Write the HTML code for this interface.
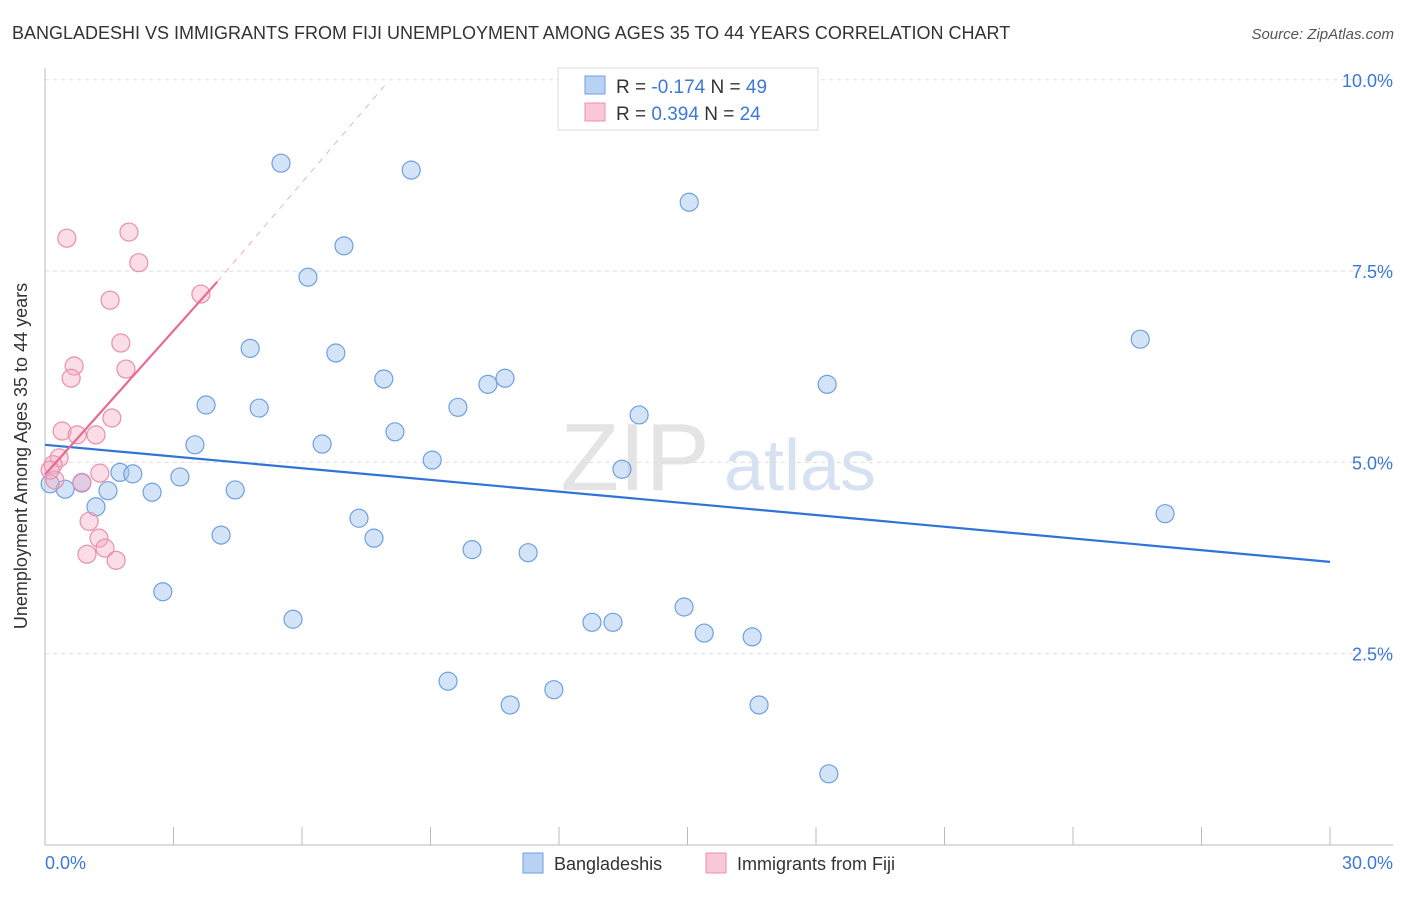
<!DOCTYPE html>
<html><head><meta charset="utf-8"><style>
body{margin:0;background:#fff;font-family:"Liberation Sans",sans-serif}
svg text{font-family:"Liberation Sans",sans-serif}
</style></head><body>
<svg id="c" width="1406" height="892" xmlns="http://www.w3.org/2000/svg">
<text x="12" y="39" font-size="18" fill="#333">BANGLADESHI VS IMMIGRANTS FROM FIJI UNEMPLOYMENT AMONG AGES 35 TO 44 YEARS CORRELATION CHART</text>
<text x="1394" y="39" font-size="15" fill="#555" text-anchor="end" font-style="italic">Source: ZipAtlas.com</text>
<text x="635" y="490" font-size="96" fill="#e4e4e4" font-family="Liberation Serif" text-anchor="middle">ZIP</text>
<text x="800" y="490" font-size="72" fill="#d6e2f2" text-anchor="middle">atlas</text>
<g id="grid"></g><g id="axes"></g><g id="marks"></g>
<text x="27" y="456" font-size="18" fill="#333" text-anchor="middle" transform="rotate(-90 27 456)">Unemployment Among Ages 35 to 44 years</text>
<text x="45" y="869" font-size="18" fill="#3b78d8">0.0%</text>
<text x="1393" y="869" font-size="18" fill="#3b78d8" text-anchor="end">30.0%</text>
<g>
<rect x="558" y="68" width="260" height="62" fill="#fff" stroke="#ddd"/>
<rect x="585" y="76" width="20" height="18" fill="#b8d2f4" stroke="#6fa0e0"/>
<rect x="585" y="103" width="20" height="18" fill="#f9c8d6" stroke="#e890aa"/>
<text x="616" y="93" font-size="19" fill="#333">R = <tspan fill="#3b78d8">-0.174</tspan>   N = <tspan fill="#3b78d8">49</tspan></text>
<text x="616" y="120" font-size="19" fill="#333">R =  <tspan fill="#3b78d8">0.394</tspan>   N = <tspan fill="#3b78d8">24</tspan></text>
</g>
<g>
<rect x="523" y="853" width="20" height="20" fill="#b8d2f4" stroke="#6fa0e0"/>
<text x="554" y="870" font-size="18" fill="#333">Bangladeshis</text>
<rect x="706" y="853" width="20" height="20" fill="#f9c8d6" stroke="#e890aa"/>
<text x="737" y="870" font-size="18" fill="#333">Immigrants from Fiji</text>
</g>
</svg>
<script>
const yTicks=[2.5,5.0,7.5,10.0];
const yTickLabels=["2.5%","5.0%","7.5%","10.0%"];
const xTicks=[0,3,6,9,12,15,18,21,24,27,30];
const blueX=[5.51,8.55,15.04,6.98,6.14,25.57,4.79,6.79,7.91,18.26,10.34,10.74,3.76,5.00,9.64,13.87,3.50,6.47,8.17,9.04,13.47,1.75,2.05,3.15,0.86,0.47,1.47,2.50,4.44,1.19,26.15,7.33,4.11,7.68,9.97,11.28,2.75,5.79,12.77,13.26,14.92,15.39,16.51,9.41,11.88,10.86,16.67,18.30,0.12];
const blueY=[8.91,8.82,8.40,7.83,7.42,6.61,6.49,6.43,6.09,6.02,6.02,6.10,5.75,5.71,5.72,5.62,5.23,5.24,5.40,5.03,4.91,4.87,4.85,4.81,4.73,4.65,4.63,4.61,4.64,4.42,4.33,4.27,4.05,4.01,3.86,3.82,3.31,2.95,2.91,2.91,3.11,2.77,2.72,2.14,2.03,1.83,1.83,0.93,4.72];
const pinkX=[0.51,1.96,2.19,1.52,3.64,1.77,1.89,0.68,0.61,1.56,0.40,1.19,0.75,0.33,0.19,1.28,0.86,0.23,1.03,1.26,1.40,0.98,1.66,0.12];
const pinkY=[7.93,8.01,7.61,7.12,7.20,6.56,6.22,6.26,6.10,5.58,5.41,5.36,5.36,5.06,4.97,4.86,4.74,4.77,4.23,4.01,3.88,3.80,3.72,4.90];
const blueTrend=[[0,5.23],[30,3.70]];
const pinkTrend=[[0,4.84],[4.02,7.36]];
const pinkTrendDash=[[4.02,7.36],[8.0,9.97]];
const X=v=>45+v/30*1285, Y=v=>845-v*76.52;
const NS="http://www.w3.org/2000/svg";
function mk(p,t,a){const e=document.createElementNS(NS,t);for(const k in a)e.setAttribute(k,a[k]);p.appendChild(e);return e;}
const grid=document.getElementById('grid'),axes=document.getElementById('axes'),marks=document.getElementById('marks');
yTicks.forEach((t,i)=>{
 const l=mk(grid,'line',{x1:45,x2:1393,y1:Y(t),y2:Y(t),stroke:'#ddd','stroke-dasharray':'4,4'});
 
 
 const tx=mk(grid,'text',{x:1393,y:Y(t)+7,'font-size':18,fill:'#3b78d8','text-anchor':'end'});
 tx.textContent=yTickLabels[i];
 
 
});
const ax=mk(axes,'path',{d:'M45 68V845H1393',stroke:'#bbb',fill:'none'});


xTicks.forEach(t=>{
 const l=mk(axes,'line',{x1:X(t),x2:X(t),y1:827,y2:845,stroke:'#bbb'});
 
 
});
function pts(xs,ys,fill,stroke,name){xs.forEach((x,i)=>{
 const c=mk(marks,'circle',{cx:X(x),cy:Y(ys[i]),r:9,fill:fill,stroke:stroke,'stroke-width':1.2});
 
 
});}
pts(blueX,blueY,'rgba(160,196,240,0.45)','#6fa0e0','bangladeshi-point');
pts(pinkX,pinkY,'rgba(245,170,195,0.4)','#e890aa','fiji-point');
function ln(d,stroke,w,dash,name){const l=mk(marks,'line',{x1:X(d[0][0]),y1:Y(d[0][1]),x2:X(d[1][0]),y2:Y(d[1][1]),stroke:stroke,'stroke-width':w});
 if(dash)l.setAttribute('stroke-dasharray',dash);
 
 }
ln(blueTrend,'#2f74d6',2.2,null,'bangladeshi-trendline');
ln(pinkTrend,'#e86a92',2.2,null,'fiji-trendline');
ln(pinkTrendDash,'#f0b0c4',1,'6,6','fiji-trendline-extension');
</script>
</body></html>
